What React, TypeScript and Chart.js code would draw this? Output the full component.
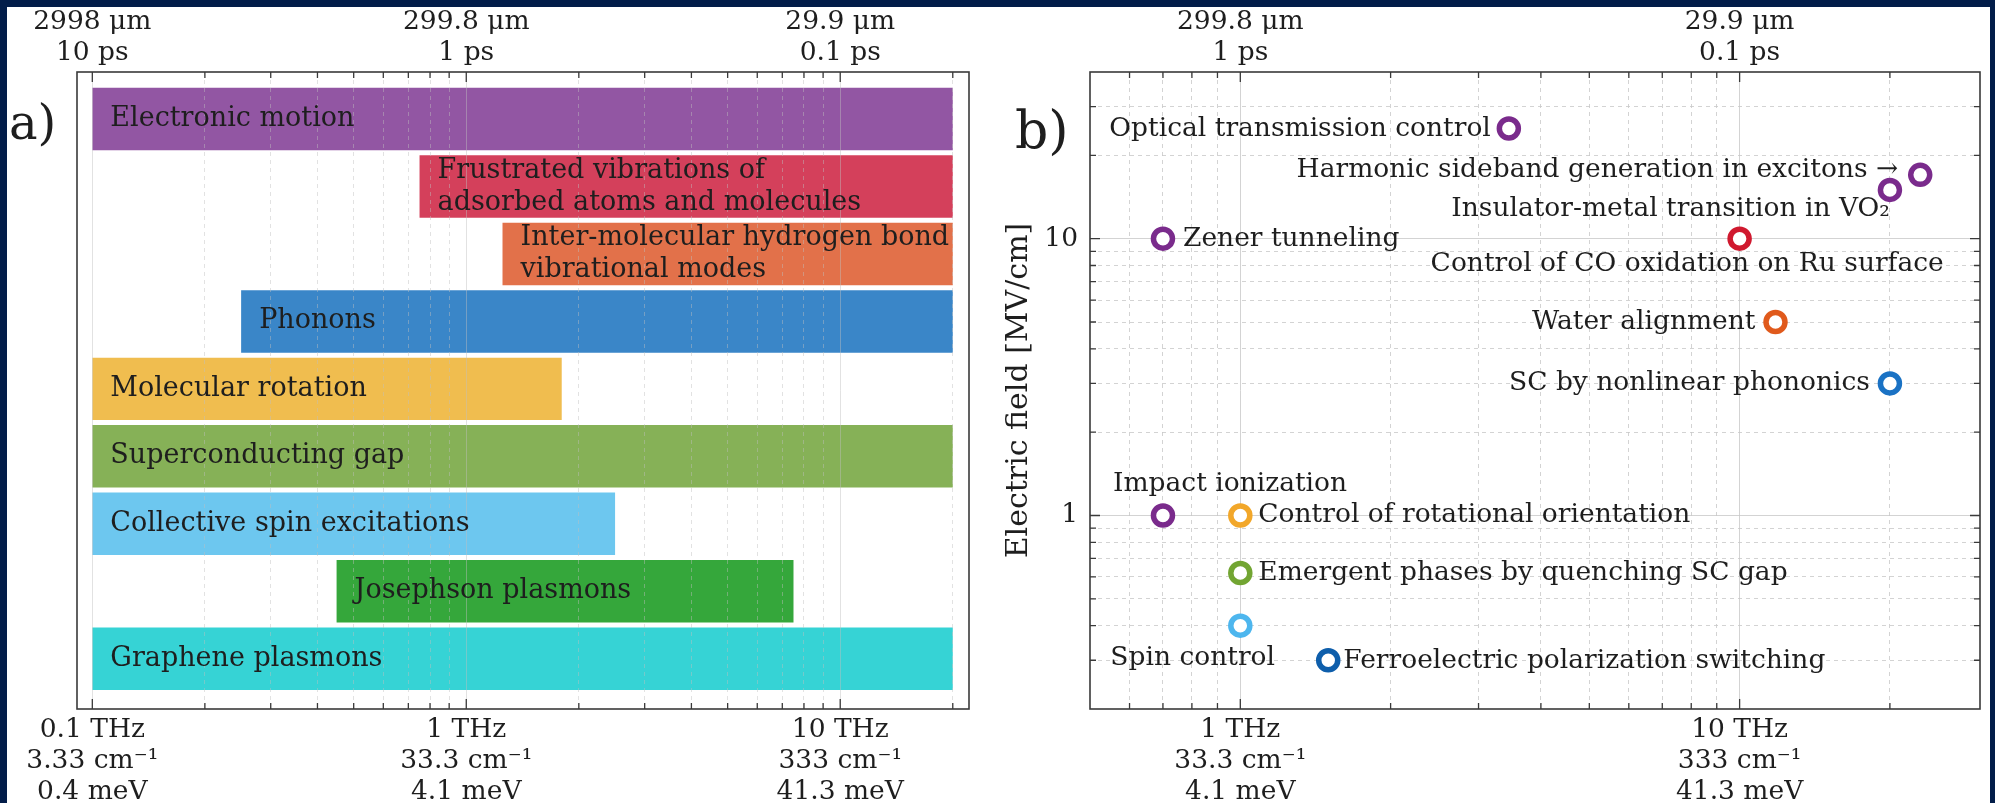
import React, { useEffect, useRef } from 'react';
import { Chart, registerables } from 'chart.js';

Chart.register(...registerables);

// ---------------- data ----------------
const BAR_LABELS: string[][] = [
  ['Electronic motion'],
  ['Frustrated vibrations of', 'adsorbed atoms and molecules'],
  ['Inter-molecular hydrogen bond', 'vibrational modes'],
  ['Phonons'],
  ['Molecular rotation'],
  ['Superconducting gap'],
  ['Collective spin excitations'],
  ['Josephson plasmons'],
  ['Graphene plasmons'],
];
const BAR_ROWS = [0, 1, 2, 3, 4, 5, 6, 7, 8];
const BAR_START = [0.1, 0.75, 1.25, 0.25, 0.1, 0.1, 0.1, 0.45, 0.1]; // THz
const BAR_END = [20, 20, 20, 20, 1.8, 20, 2.5, 7.5, 20]; // THz
const BAR_COLORS = ['#9256a3', '#d4405b', '#e2714a', '#3a86c8', '#f0bd4f', '#86b157', '#6dc7ef', '#35a73b', '#36d3d5'];

const POINT_LABELS = [
  'Optical transmission control',
  'Harmonic sideband generation in excitons \u2192',
  'Insulator-metal transition in VO\u2082',
  'Control of CO oxidation on Ru surface',
  'Zener tunneling',
  'Water alignment',
  'SC by nonlinear phononics',
  'Impact ionization',
  'Control of rotational orientation',
  'Emergent phases by quenching SC gap',
  'Spin control',
  'Ferroelectric polarization switching',
];
const POINT_FREQ = [3.45, 23, 20, 10, 0.7, 11.8, 20, 0.7, 1, 1, 1, 1.5]; // THz
const POINT_FIELD = [25, 17, 15, 10, 10, 5, 3, 1, 1, 0.62, 0.4, 0.3]; // MV/cm
const POINT_COLORS = ['#7a2b8c', '#7a2b8c', '#7a2b8c', '#d0192f', '#7a2b8c', '#e05a1c', '#1a72c4', '#7a2b8c', '#f2a72a', '#72a532', '#4db6ee', '#0e5eab'];

// tick values and labels
const FREQ_TICKS_A = [0.1, 0.2, 0.3, 0.4, 0.5, 0.6, 0.7, 0.8, 0.9, 1, 2, 3, 4, 5, 6, 7, 8, 9, 10, 20];
const FREQ_TICKS_B = [0.6, 0.7, 0.8, 0.9, 1, 2, 3, 4, 5, 6, 7, 8, 9, 10, 20];
const FIELD_TICKS = [0.3, 0.4, 0.5, 0.6, 0.7, 0.8, 0.9, 1, 2, 3, 4, 5, 6, 7, 8, 9, 10, 20, 30];
const FIELD_LABELED = [1, 10];
const LABELED_FREQ = [0.1, 1, 10];
const THZ_TEXT = ['0.1 THz', '1 THz', '10 THz'];
const WAVENUMBER_TEXT = ['3.33 cm\u207B\u00B9', '33.3 cm\u207B\u00B9', '333 cm\u207B\u00B9'];
const ENERGY_TEXT = ['0.4 meV', '4.1 meV', '41.3 meV'];
const WAVELENGTH_TEXT = ['2998 \u03BCm', '299.8 \u03BCm', '29.9 \u03BCm'];
const PERIOD_TEXT = ['10 ps', '1 ps', '0.1 ps'];

// ---------------- styles ----------------
const NAVY = '#021d49';
const FONT = '"DejaVu Serif", serif';
const TEXT = '#1e1e1e';
const FS = 26.5;
// label placement relative to each marker: [align, dx, dy]
const LABEL_PLACE: [CanvasTextAlign, number, number][] = [
  ['right', -18, 1],
  ['right', -22, -5],
  ['right', 0, 19],
  ['left', -309, 25],
  ['left', 20, 0],
  ['right', -20, 0],
  ['right', -20, 0],
  ['left', -50, -31],
  ['left', 18, 0],
  ['left', 18, 0],
  ['left', -130, 32],
  ['left', 15, 1],
];

const isDecade = (v: number) => Math.abs(Math.log10(v) - Math.round(Math.log10(v))) < 1e-6;
const labelIndex = (v: number) => LABELED_FREQ.findIndex((f) => Math.abs(f - v) / f < 1e-6);
const bottomLabel = (v: number) => {
  const i = labelIndex(v);
  return i < 0 ? '' : [THZ_TEXT[i], WAVENUMBER_TEXT[i], ENERGY_TEXT[i]];
};
const topLabel = (v: number) => {
  const i = labelIndex(v);
  return i < 0 ? '' : [WAVELENGTH_TEXT[i], PERIOD_TEXT[i]];
};
const setTicks = (values: number[]) => (scale: any) => {
  scale.ticks = values.map((v) => ({ value: v, major: false }));
};
const tickFont = { family: FONT, size: FS, lineHeight: 31 / FS };

const gridDash = (ctx: any) => (ctx.tick && isDecade(ctx.tick.value) ? [] : [4, 4]);

function frameTicksPlugin(yTicks: boolean) {
  return {
    id: 'frameTicks',
    afterDraw(chart: any) {
      const { ctx, chartArea: a } = chart;
      ctx.save();
      ctx.strokeStyle = '#3a3a3a';
      ctx.lineWidth = 1.3;
      ctx.beginPath();
      const xs = chart.scales.x;
      for (const t of xs.ticks) {
        const px = xs.getPixelForValue(t.value);
        const len = isDecade(t.value) ? 10 : 6;
        ctx.moveTo(px, a.top);
        ctx.lineTo(px, a.top + len);
        ctx.moveTo(px, a.bottom);
        ctx.lineTo(px, a.bottom - len);
      }
      if (yTicks) {
        const ys = chart.scales.y;
        for (const t of ys.ticks) {
          const py = ys.getPixelForValue(t.value);
          const len = isDecade(t.value) ? 10 : 6;
          ctx.moveTo(a.left, py);
          ctx.lineTo(a.left + len, py);
          ctx.moveTo(a.right, py);
          ctx.lineTo(a.right - len, py);
        }
      }
      ctx.stroke();
      ctx.lineWidth = 1.6;
      ctx.strokeRect(a.left, a.top, a.right - a.left, a.bottom - a.top);
      ctx.restore();
    },
  };
}

const barLabelPlugin = {
  id: 'barLabels',
  afterDraw(chart: any) {
    const { ctx } = chart;
    const meta = chart.getDatasetMeta(0);
    ctx.save();
    ctx.font = `27px ${FONT}`;
    ctx.fillStyle = TEXT;
    ctx.textBaseline = 'middle';
    ctx.textAlign = 'left';
    meta.data.forEach((bar: any, i: number) => {
      const left = Math.min(bar.x, bar.base);
      const lines = BAR_LABELS[i];
      lines.forEach((ln, j) => {
        ctx.fillText(ln, left + 18, bar.y + (j - (lines.length - 1) / 2) * 32);
      });
    });
    ctx.restore();
  },
};

const pointLabelPlugin = {
  id: 'pointLabels',
  afterDraw(chart: any) {
    const { ctx } = chart;
    const meta = chart.getDatasetMeta(0);
    ctx.save();
    ctx.font = `${FS}px ${FONT}`;
    ctx.fillStyle = TEXT;
    ctx.textBaseline = 'middle';
    meta.data.forEach((pt: any, i: number) => {
      const [align, dx, dy] = LABEL_PLACE[i];
      ctx.textAlign = align;
      ctx.fillText(POINT_LABELS[i], pt.x + dx, pt.y + dy);
    });
    ctx.restore();
  },
};

function leftConfig(): any {
  const xCommon = {
    type: 'logarithmic',
    min: 0.091,
    max: 22.1,
    afterBuildTicks: setTicks(FREQ_TICKS_A),
    border: { display: false, dash: gridDash },
  };
  return {
    type: 'bar',
    data: {
      datasets: [
        {
          data: BAR_START.map((s, i) => ({ x: [s, BAR_END[i]], y: BAR_ROWS[i] })),
          backgroundColor: BAR_COLORS,
          borderWidth: 0,
          barPercentage: 0.926,
          categoryPercentage: 1,
        },
      ],
    },
    options: {
      indexAxis: 'y',
      responsive: false,
      animation: false,
      devicePixelRatio: 1,
      events: [],
      layout: { padding: { left: 0, right: 31, top: 0, bottom: 0 } },
      plugins: { legend: { display: false }, tooltip: { enabled: false } },
      scales: {
        x: {
          ...xCommon,
          position: 'bottom',
          afterFit: (s: any) => { s.height = 94; },
          grid: { color: 'rgba(190,190,190,0.45)', lineWidth: 1, drawTicks: false, z: 1 },
          ticks: { callback: (v: number) => bottomLabel(v), font: tickFont, color: TEXT, padding: 5.5, autoSkip: false, maxRotation: 0, minRotation: 0 },
        },
        x2: {
          ...xCommon,
          position: 'top',
          afterFit: (s: any) => { s.height = 72; },
          grid: { drawOnChartArea: false, drawTicks: false },
          ticks: { callback: (v: number) => topLabel(v), font: tickFont, color: TEXT, padding: 3.5, autoSkip: false, maxRotation: 0, minRotation: 0 },
        },
        y: {
          type: 'linear',
          min: -0.697,
          max: 8.745,
          reverse: true,
          offset: false,
          bounds: 'data',
          grace: 0,
          afterBuildTicks: setTicks(BAR_ROWS),
          afterFit: (s: any) => { s.width = 77; },
          grid: { display: false, offset: false },
          border: { display: false },
          ticks: { display: false },
        },
      },
    },
    plugins: [barLabelPlugin, frameTicksPlugin(false)],
  };
}

function rightConfig(): any {
  const xCommon = {
    type: 'logarithmic',
    min: 0.5,
    max: 30.3,
    afterBuildTicks: setTicks(FREQ_TICKS_B),
    border: { display: false, dash: gridDash },
  };
  return {
    type: 'scatter',
    data: {
      datasets: [
        {
          data: POINT_FREQ.map((f, i) => ({ x: f, y: POINT_FIELD[i] })),
          pointRadius: 9.5,
          pointBorderWidth: 5.5,
          pointBorderColor: POINT_COLORS,
          pointBackgroundColor: '#ffffff',
          showLine: false,
        },
      ],
    },
    options: {
      responsive: false,
      animation: false,
      devicePixelRatio: 1,
      events: [],
      layout: { padding: { left: 0, right: 13, top: 0, bottom: 0 } },
      plugins: { legend: { display: false }, tooltip: { enabled: false } },
      scales: {
        x: {
          ...xCommon,
          position: 'bottom',
          afterFit: (s: any) => { s.height = 94; },
          grid: { color: 'rgba(200,200,200,0.8)', lineWidth: 1, drawTicks: false },
          ticks: { callback: (v: number) => bottomLabel(v), font: tickFont, color: TEXT, padding: 5.5, autoSkip: false, maxRotation: 0, minRotation: 0 },
        },
        x2: {
          ...xCommon,
          position: 'top',
          afterFit: (s: any) => { s.height = 72; },
          grid: { drawOnChartArea: false, drawTicks: false },
          ticks: { callback: (v: number) => topLabel(v), font: tickFont, color: TEXT, padding: 3.5, autoSkip: false, maxRotation: 0, minRotation: 0 },
        },
        y: {
          type: 'logarithmic',
          min: 0.2,
          max: 40,
          afterBuildTicks: setTicks(FIELD_TICKS),
          afterFit: (s: any) => { s.width = 90; },
          grid: { color: 'rgba(200,200,200,0.8)', lineWidth: 1, drawTicks: false },
          border: { display: false, dash: gridDash },
          ticks: {
            callback: (v: number) => (FIELD_LABELED.some((f) => Math.abs(f - v) < 1e-9) ? String(v) : ''),
            font: { family: FONT, size: FS },
            color: TEXT,
            padding: 12,
            autoSkip: false,
          },
          title: { display: true, text: 'Electric field [MV/cm]', font: { family: FONT, size: 30 }, color: TEXT, padding: { top: 1, bottom: 0 } },
        },
      },
    },
    plugins: [pointLabelPlugin, frameTicksPlugin(true)],
  };
}

export default function App() {
  const leftRef = useRef<HTMLCanvasElement>(null);
  const rightRef = useRef<HTMLCanvasElement>(null);
  useEffect(() => {
    const c1 = new Chart(leftRef.current as HTMLCanvasElement, leftConfig());
    const c2 = new Chart(rightRef.current as HTMLCanvasElement, rightConfig());
    return () => {
      c1.destroy();
      c2.destroy();
    };
  }, []);
  return (
    <div style={{ position: 'absolute', left: 0, top: 0, width: 1995, height: 803, background: NAVY, overflow: 'hidden' }}>
      <div style={{ position: 'absolute', left: 7, top: 7, width: 1983, height: 796, background: '#ffffff' }} />
      <canvas ref={leftRef} width={1000} height={803} style={{ position: 'absolute', left: 0, top: 0, width: 1000, height: 803 }} />
      <canvas ref={rightRef} width={995} height={803} style={{ position: 'absolute', left: 1000, top: 0, width: 995, height: 803 }} />
      <div style={{ position: 'absolute', left: 9, top: 98, font: `48px ${FONT}`, lineHeight: 1, color: TEXT }}>a)</div>
      <div style={{ position: 'absolute', left: 1015, top: 104, font: `52px ${FONT}`, lineHeight: 1, color: TEXT }}>b)</div>
    </div>
  );
}
